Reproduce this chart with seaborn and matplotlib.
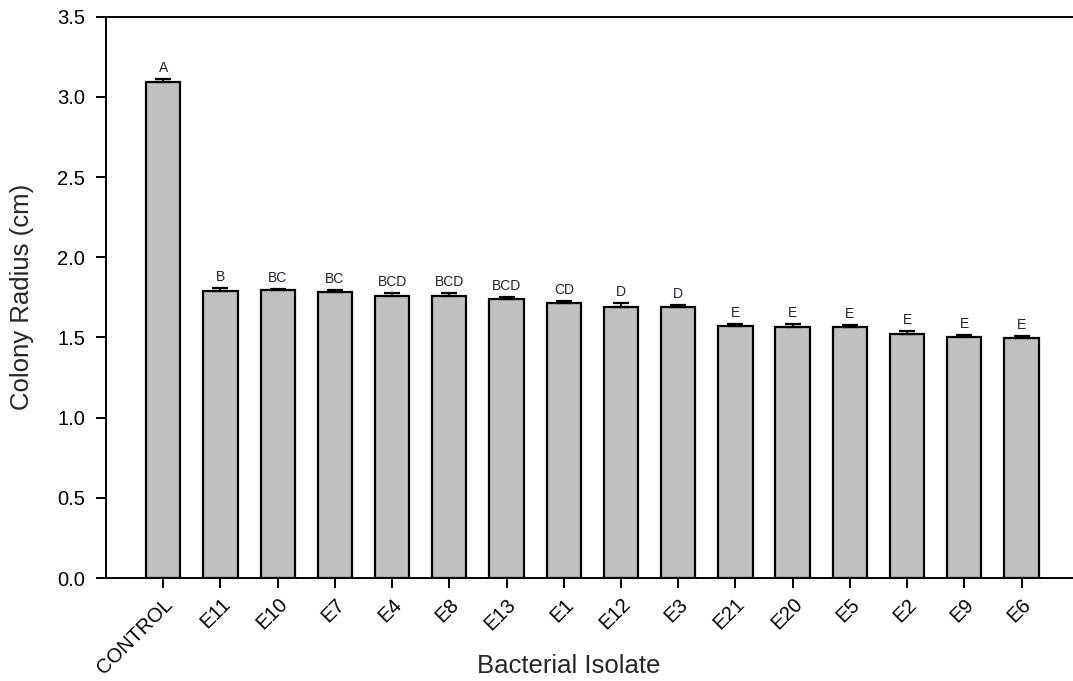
import numpy as np
import pandas as pd
import seaborn as sns
import matplotlib.pyplot as plt

# values
isolates = ["CONTROL", "E11", "E10", "E7", "E4", "E8", "E13", "E1",
            "E12", "E3", "E21", "E20", "E5", "E2", "E9", "E6"]
radius = [3.09, 1.79, 1.795, 1.785, 1.76, 1.76, 1.74, 1.712,
          1.692, 1.692, 1.571, 1.565, 1.565, 1.523, 1.505, 1.498]
sem = [0.02, 0.02, 0.006, 0.012, 0.018, 0.018, 0.012, 0.012,
       0.02, 0.01, 0.012, 0.02, 0.012, 0.016, 0.012, 0.012]
groups = ["A", "B", "BC", "BC", "BCD", "BCD", "BCD", "CD",
          "D", "D", "E", "E", "E", "E", "E", "E"]

df = pd.DataFrame({"isolate": isolates, "radius": radius})

sns.set_style("ticks")
plt.rcParams['font.family'] = ['Liberation Sans', 'DejaVu Sans']

fig = plt.figure(figsize=(10.73, 6.81), dpi=100)
ax = fig.add_axes([0.0988, 0.1512, 0.9012, 0.8244])

sns.barplot(data=df, x="isolate", y="radius", order=isolates, color="#c0c0c0",
            edgecolor="black", linewidth=1.6, width=0.6, errorbar=None,
            saturation=1, ax=ax)

x = np.arange(len(isolates))
ax.errorbar(x, radius, yerr=[np.zeros(len(sem)), sem], fmt="none",
            ecolor="black", elinewidth=1.3, capsize=6, capthick=1.6)

for xi, yi, e, g in zip(x, radius, sem, groups):
    ax.text(xi, yi + e + 0.025, g, ha="center", va="bottom", fontsize=10,
            color="#222233")

ax.set_xlim(-1.0, 15.9)
ax.set_ylim(0, 3.5)
yt = np.arange(0, 3.51, 0.5)
ax.set_yticks(yt)
ax.set_yticklabels([f"{v:.1f}" for v in yt], fontsize=14.5)
ax.set_xticks(x)
ax.set_xticklabels(isolates, rotation=45, ha="right", rotation_mode="anchor",
                   fontsize=14.5)
ax.tick_params(axis="both", direction="out", length=7, width=1.4, colors="black")
ax.tick_params(axis="x", pad=5)
ax.tick_params(axis="y", pad=8)

ax.spines["right"].set_visible(False)
for s in ["left", "bottom", "top"]:
    ax.spines[s].set_linewidth(1.4)
    ax.spines[s].set_color("black")

ax.set_xlabel("Bacterial Isolate", fontsize=18.5)
ax.set_ylabel("Colony Radius (cm)", fontsize=18.5)
ax.xaxis.set_label_coords(0.478, -0.135)
ax.yaxis.set_label_coords(-0.074, 0.5)

fig.savefig("out.png", dpi=100)
